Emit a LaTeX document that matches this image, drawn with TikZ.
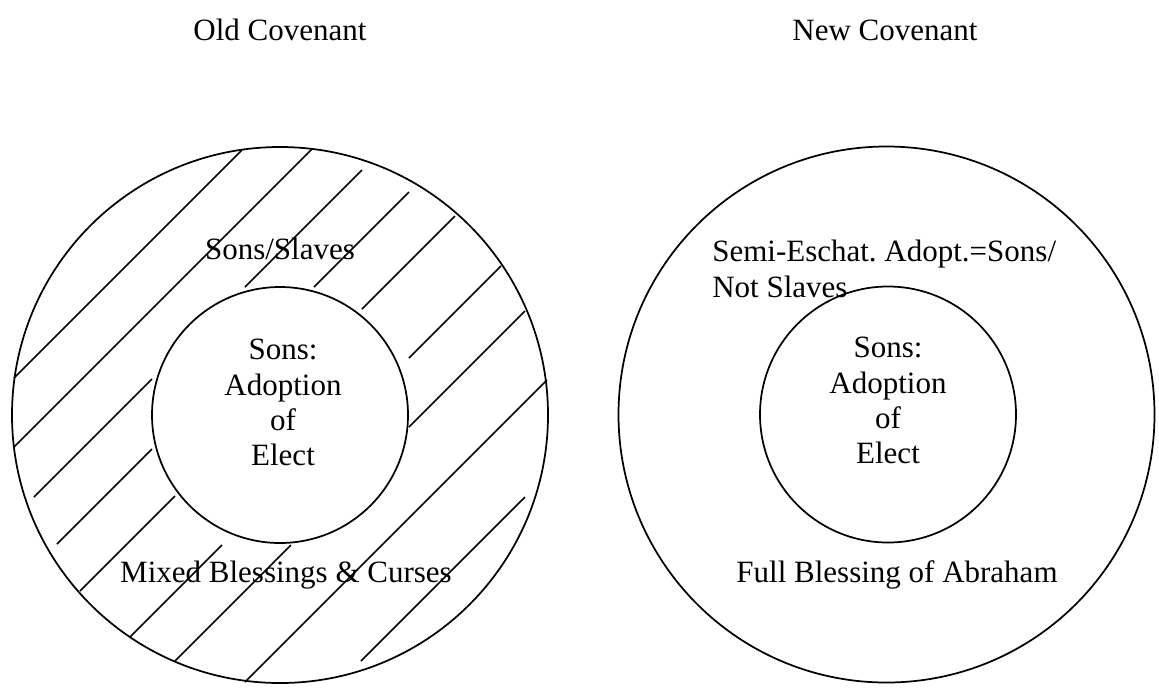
\documentclass[tikz,border=0pt]{standalone}
\usepackage{fontspec}
\setmainfont{Liberation Serif}
\frenchspacing
\tikzset{
  ring/.style={draw, circle, line width=1.3pt, inner sep=0pt},
  hatch/.style={line width=1.1pt},
  lbl/.style={inner sep=0pt, font=\fontsize{23.25pt}{26.5pt}\selectfont}
}

\begin{document}
\begin{tikzpicture}[x=0.75pt,y=-0.75pt]
  \useasboundingbox (0,0) rectangle (1159,687);

  \node [lbl, anchor=base] (oldtitle) at (280,40) {Old Covenant};
  \node [lbl, anchor=base] (newtitle) at (885,40) {New Covenant};

  % Old covenant: hatched ring
  \foreach \xa/\ya/\xb/\yb in {14/378/242/150, 14/447/312/149,
      34/497/152/379, 245/287/362/170,
      57/544/152/449, 314/287/409/192,
      80/591/175/496, 362/309/455/216,
      130/637/222/545, 409/358/501/266,
      175/661/291/545, 409/427/525/311,
      245/682/547/380, 361/661/525/497} {
    \draw [hatch] (\xa,\ya) -- (\xb,\yb);
  }

  \node [ring, minimum size=402pt] (oldout) at (280,415) {};
  \node [ring, minimum size=192pt] (oldin) at (280,415) {};

  \node [lbl, anchor=base] (oldring) at (280,259) {Sons/Slaves};
  \node [lbl, align=center, anchor=north] (oldcore) at (283,339) {Sons:\\Adoption\\of\\Elect};
  \node [lbl, anchor=base] (oldlow) at (286,582) {Mixed Blessings \& Curses};

  % New covenant
  \node [ring, minimum size=402pt] (newout) at (886.5,414.5) {};
  \node [ring, minimum size=192pt] (newin) at (888,414.5) {};

  \node [lbl, align=left, anchor=north west] (newring) at (712,240) {Semi-Eschat. Adopt.=Sons/\\Not Slaves};
  \node [lbl, align=center, anchor=north] (newcore) at (888,337) {Sons:\\Adoption\\of\\Elect};
  \node [lbl, anchor=base] (newlow) at (897,582) {Full Blessing of Abraham};
\end{tikzpicture}
\end{document}
